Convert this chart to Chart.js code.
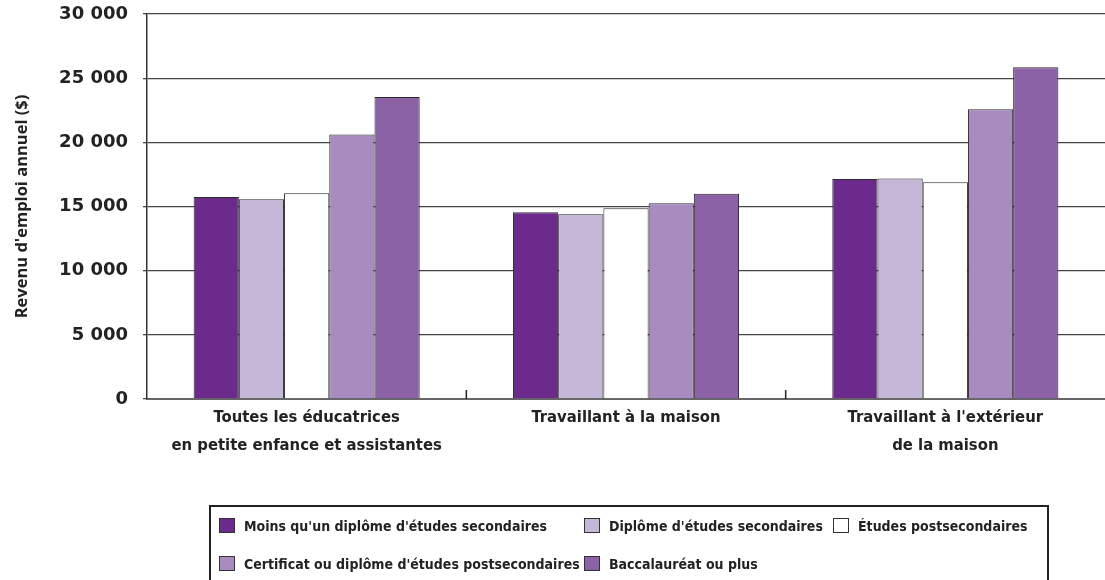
<!DOCTYPE html>
<html>
<head>
<meta charset="utf-8">
<script src="https://cdn.jsdelivr.net/npm/chart.js@4/dist/chart.umd.min.js"></script>
<style>
  body { margin: 0; background: #fff; }
  #wrap { position: relative; width: 1105px; height: 580px; overflow: hidden; }
  #legend { position: absolute; left: 209px; top: 505px; width: 836px; height: 100px; border: 2px solid #222; }
  .item { position: absolute; font: bold 14px "DejaVu Sans Condensed", "DejaVu Sans"; color: #222; white-space: nowrap; line-height: 16px; }
  .item span.sw { display: inline-block; width: 14px; height: 13px; border: 1px solid #333; vertical-align: -2px; margin-right: 9px; }
</style>
</head>
<body>
<div id="wrap">
  <canvas id="myChart" width="1105" height="580"></canvas>
  <div id="legend"></div>
</div>
<script>
var categories = [
  ['Toutes les éducatrices', 'en petite enfance et assistantes'],
  ['Travaillant à la maison'],
  ["Travaillant à l'extérieur", 'de la maison']
];
var series_names = [
  "Moins qu'un diplôme d'études secondaires",
  "Diplôme d'études secondaires",
  'Études postsecondaires',
  "Certificat ou diplôme d'études postsecondaires",
  'Baccalauréat ou plus'
];
var less_than_hs = [15740, 14550, 17140];
var hs_diploma = [15560, 14390, 17190];
var postsec = [16030, 14860, 16880];
var certificate = [20620, 15250, 22570];
var bachelor = [23530, 16000, 25850];
var y_ticks = [0, 5000, 10000, 15000, 20000, 25000, 30000];
var colors = ['#6c2a8c', '#c4b7d8', '#ffffff', '#a98cbf', '#8b62a6'];

// legend slots (left, top) inside the page
var legend_pos = [[219, 518], [584, 518], [833, 518], [219, 556], [584, 556]];

function fmt(v) {
  return String(v).replace(/\B(?=(\d{3})+(?!\d))/g, ' ');
}

var values = [less_than_hs, hs_diploma, postsec, certificate, bachelor];
var datasets = [];
for (var i = 0; i < values.length; i++) {
  datasets.push({
    label: series_names[i],
    data: values[i],
    backgroundColor: colors[i],
    borderColor: '#2a2a2a',
    borderWidth: 1,
    categoryPercentage: 0.708,
    barPercentage: 1
  });
}

// short upward marks between the groups on the bottom axis
var groupTicks = {
  id: 'groupTicks',
  afterDatasetsDraw: function(chart) {
    var x = chart.scales.x, ctx = chart.ctx, b = chart.chartArea.bottom;
    ctx.save();
    ctx.strokeStyle = '#222';
    ctx.lineWidth = 1.5;
    for (var k = 1; k < categories.length; k++) {
      var px = (x.getPixelForValue(k - 1) + x.getPixelForValue(k)) / 2;
      ctx.beginPath();
      ctx.moveTo(px, b);
      ctx.lineTo(px, b - 9);
      ctx.stroke();
    }
    ctx.restore();
  }
};

const ctx = document.getElementById('myChart');
var chart = new Chart(ctx, {
  type: 'bar',
  data: { labels: categories, datasets: datasets },
  plugins: [groupTicks],
  options: {
    responsive: false,
    animation: false,
    layout: { padding: { top: 14, right: 0, bottom: 121, left: 0 } },
    plugins: { legend: { display: false }, tooltip: { enabled: false } },
    scales: {
      x: {
        grid: { display: false },
        border: { color: '#666', width: 2 },
        ticks: {
          color: '#222',
          padding: -3,
          font: { family: 'DejaVu Sans Condensed', weight: 'bold', size: 16.5, lineHeight: 1.7 }
        },
        afterFit: function(s) {
          s.height = 60;
          s.paddingLeft = 0;
          s.paddingRight = 0;
        }
      },
      y: {
        min: 0,
        max: 30000,
        afterBuildTicks: function(s) { s.ticks = y_ticks.map(function(v) { return { value: v }; }); },
        grid: { color: '#444', lineWidth: 1.3, tickLength: 4 },
        border: { color: '#333', width: 1.5 },
        ticks: {
          color: '#222',
          padding: 15,
          font: { family: 'DejaVu Sans', weight: 'bold', size: 18 },
          callback: function(v) { return fmt(v); }
        },
        title: {
          display: true,
          text: "Revenu d'emploi annuel ($)",
          color: '#222',
          padding: { top: 12, bottom: 0 },
          font: { family: 'Open Sans', weight: 'bold', size: 16.5 }
        },
        afterFit: function(s) {
          s.width = 147;
          s.paddingTop = 0;
          s.paddingBottom = 0;
        }
      }
    }
  }
});

// legend built from the same series
var leg = document.getElementById('legend');
for (var j = 0; j < series_names.length; j++) {
  var it = document.createElement('div');
  it.className = 'item';
  it.style.left = (legend_pos[j][0] - 211) + 'px';
  it.style.top = (legend_pos[j][1] - 507) + 'px';
  it.innerHTML = '<span class="sw" style="background:' + colors[j] + '"></span>' + series_names[j];
  leg.appendChild(it);
}
</script>
</body>
</html>
